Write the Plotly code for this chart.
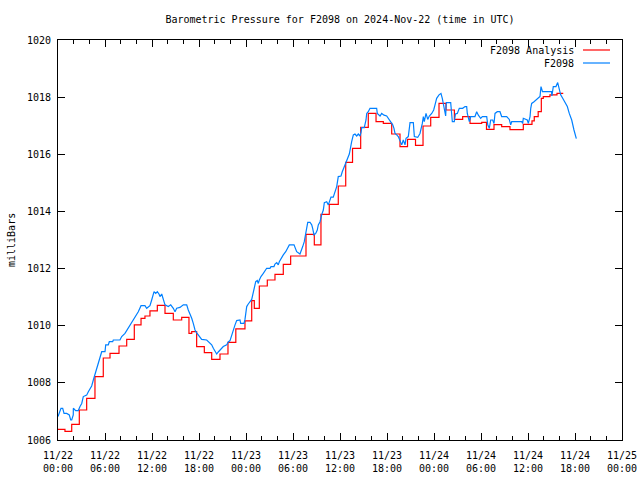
import plotly.graph_objects as go

# ---------------- data ----------------
# hours after 2024-11-22 00:00 UTC
analysis_hours = [0, 0.89, 1.75, 2.72, 3.66, 4.72, 5.78, 6.64, 7.79, 8.77, 9.74, 10.6, 11.1, 11.74,
                  12.68, 13.66, 14.72, 15.79, 16.72, 17.07, 17.7, 18.68, 19.62, 20.68, 21.7, 22.7,
                  23.87, 24.73, 25.06, 25.7, 26.72, 27.7, 28.76, 29.7, 31.66, 32.72, 33.57, 34.63,
                  35.78, 36.73, 37.6, 38.64, 39.61, 40.6, 41.53, 42.6, 43.66, 44.62, 45.64, 46.6,
                  47.58, 48.64, 49.53, 50.6, 51.66, 52.6, 54.09, 54.7, 55.66, 56.64, 57.7, 59.4,
                  60.51, 60.8, 61.3, 61.7, 61.95, 62.8, 63.7, 64.5]
analysis_mb = [1006.37, 1006.30, 1006.55, 1007.05, 1007.46, 1008.22, 1008.87, 1009.03, 1009.29, 1009.52,
               1010.03, 1010.26, 1010.34, 1010.52, 1010.71, 1010.43, 1010.20, 1010.29, 1009.73, 1009.79,
               1009.27, 1009.06, 1008.82, 1009.01, 1009.42, 1009.89, 1010.17, 1010.88, 1010.61, 1011.39,
               1011.60, 1011.80, 1012.15, 1012.44, 1013.20, 1012.83, 1013.90, 1014.25, 1014.89, 1015.72,
               1016.21, 1016.94, 1017.43, 1017.14, 1017.08, 1016.71, 1016.27, 1016.52, 1016.31, 1016.99,
               1017.29, 1017.78, 1017.55, 1017.22, 1017.32, 1017.08, 1017.12, 1016.87, 1017.04, 1016.97,
               1016.86, 1017.05, 1017.17, 1017.32, 1017.49, 1017.96, 1018.02, 1018.08, 1018.13, 1018.13]

station_hours = [0, 0.38, 0.6, 0.77, 1.11, 1.44, 1.62, 1.75, 1.95, 1.96, 2.26, 2.59, 2.81, 3.03, 3.23,
                 3.66, 3.87, 4.09, 4.3, 4.51, 4.72, 4.94, 5.14, 5.36, 5.58, 6.0, 6.09, 6.42, 6.55, 6.98,
                 7.06, 7.91, 8.13, 8.55, 8.97, 9.41, 9.83, 10.25, 10.6, 11.1, 11.32, 11.74, 11.96, 12.26,
                 12.47, 12.68, 12.89, 13.02, 13.24, 13.44, 13.66, 14.08, 14.39, 14.72, 14.94, 15.15,
                 15.57, 16.0, 16.43, 16.63, 16.85, 17.07, 17.27, 17.49, 17.71, 17.91, 18.13, 18.34,
                 18.98, 19.19, 19.4, 19.62, 19.83, 20.04, 20.26, 20.46, 20.68, 21.1, 21.54, 21.74,
                 21.96, 22.17, 22.38, 22.6, 22.81, 23.23, 23.32, 23.74, 23.87, 24.0, 24.09, 24.29,
                 24.51, 24.73, 24.86, 25.02, 25.24, 25.44, 25.57, 25.7, 25.91, 26.21, 26.43, 26.64,
                 27.06, 27.19, 27.57, 27.7, 27.92, 28.12, 28.25, 28.47, 28.76, 29.07, 29.32, 29.53,
                 30.13, 30.26, 30.47, 30.89, 31.02, 31.24, 31.44, 31.62, 31.75, 31.88, 32.17, 32.39,
                 32.51, 32.68, 32.9, 33.1, 33.23, 33.45, 33.66, 33.87, 34.0, 34.3, 34.51, 34.63, 34.85,
                 35.14, 35.36, 35.58, 35.78, 36.13, 36.29, 36.55, 36.73, 36.98, 37.19, 37.49, 37.7,
                 37.91, 38.13, 38.34, 38.55, 38.68, 38.77, 39.1, 39.32, 39.41, 39.61, 39.83, 40.68,
                 40.76, 41.11, 41.32, 41.62, 41.96, 42.26, 42.51, 42.73, 42.89, 43.02, 43.24, 43.44,
                 43.88, 44.08, 44.3, 44.43, 44.72, 44.94, 45.36, 45.49, 45.92, 46.21, 46.51, 46.64,
                 46.76, 46.98, 47.2, 47.4, 47.71, 47.96, 48.13, 48.34, 48.64, 48.89, 49.06, 49.28,
                 49.49, 49.57, 50.13, 50.34, 50.59, 50.74, 50.97, 51.23, 51.66, 51.96, 52.17, 52.25,
                 52.51, 52.68, 53.23, 53.45, 53.66, 53.96, 54.17, 54.73, 54.86, 55.06, 55.24, 55.49,
                 55.66, 55.79, 56.08, 56.42, 56.64, 57.28, 57.61, 57.79, 57.92, 59.2, 59.32, 59.4,
                 59.91, 60.04, 60.26, 60.35, 60.47, 60.77, 61.02, 61.19, 61.53, 61.66, 61.85, 63.0,
                 63.05, 63.23, 63.57, 63.79, 63.96, 64.17, 64.43, 64.72, 65.02, 65.27, 65.58, 65.87,
                 66.17]
station_mb = [1006.82, 1007.11, 1007.11, 1006.93, 1006.93, 1006.88, 1006.70, 1006.70, 1006.88, 1007.11,
              1007.03, 1007.03, 1007.17, 1007.28, 1007.52, 1007.57, 1007.69, 1007.81, 1007.89, 1008.10,
              1008.31, 1008.54, 1008.74, 1008.90, 1009.09, 1009.09, 1009.33, 1009.33, 1009.44, 1009.44,
              1009.50, 1009.50, 1009.62, 1009.73, 1009.91, 1010.14, 1010.28, 1010.49, 1010.70, 1010.70,
              1010.61, 1010.70, 1010.90, 1011.19, 1011.13, 1011.19, 1011.11, 1011.02, 1011.11, 1010.96,
              1010.73, 1010.67, 1010.73, 1010.61, 1010.49, 1010.61, 1010.64, 1010.73, 1010.73, 1010.55,
              1010.43, 1010.26, 1010.08, 1009.85, 1009.75, 1009.68, 1009.61, 1009.52, 1009.50, 1009.44,
              1009.38, 1009.33, 1009.21, 1009.12, 1009.01, 1009.08, 1009.15, 1009.27, 1009.33, 1009.43,
              1009.48, 1009.68, 1009.85, 1010.03, 1010.18, 1010.20, 1010.08, 1010.08, 1010.22, 1010.49,
              1010.67, 1010.76, 1010.84, 1010.92, 1011.08, 1011.31, 1011.54, 1011.58, 1011.48, 1011.60,
              1011.72, 1011.83, 1011.95, 1012.01, 1012.01, 1012.07, 1012.07, 1012.16, 1012.21, 1012.13,
              1012.24, 1012.36, 1012.48, 1012.59, 1012.74, 1012.83, 1012.83, 1012.74, 1012.59, 1012.51,
              1012.59, 1012.77, 1012.94, 1013.18, 1013.41, 1013.62, 1013.62, 1013.53, 1013.41, 1013.18,
              1013.23, 1013.35, 1013.53, 1013.64, 1013.88, 1014.05, 1014.31, 1014.34, 1014.23, 1014.34,
              1014.50, 1014.50, 1014.69, 1014.87, 1015.22, 1015.24, 1015.39, 1015.57, 1015.72, 1015.88,
              1016.01, 1016.44, 1016.68, 1016.71, 1016.64, 1016.71, 1016.64, 1016.76, 1016.93, 1016.93,
              1017.20, 1017.43, 1017.49, 1017.61, 1017.61, 1017.43, 1017.34, 1017.43, 1017.37, 1017.34,
              1017.22, 1017.14, 1017.03, 1016.91, 1016.73, 1016.68, 1016.62, 1016.33, 1016.50, 1016.33,
              1016.56, 1016.62, 1017.11, 1017.11, 1016.62, 1016.59, 1016.73, 1017.08, 1017.32, 1017.14,
              1017.43, 1017.22, 1017.34, 1017.43, 1017.55, 1017.73, 1017.96, 1018.08, 1018.13, 1017.96,
              1017.61, 1017.34, 1017.81, 1017.81, 1017.14, 1017.14, 1017.41, 1017.43, 1017.61, 1017.61,
              1017.67, 1017.67, 1017.43, 1017.14, 1017.32, 1017.32, 1017.49, 1017.37, 1017.26, 1017.32,
              1017.32, 1017.03, 1016.91, 1017.20, 1017.20, 1017.08, 1017.43, 1017.49, 1017.49, 1017.32,
              1017.32, 1017.22, 1017.03, 1017.14, 1017.14, 1017.08, 1017.26, 1017.20, 1017.08, 1017.32,
              1017.61, 1017.78, 1017.84, 1017.90, 1017.96, 1018.02, 1018.37, 1018.19, 1018.19, 1018.04,
              1018.37, 1018.37, 1018.51, 1018.31, 1018.08, 1017.96, 1017.84, 1017.67, 1017.43, 1017.20,
              1016.85, 1016.55]

tick_hours = list(range(0, 73, 6))
tick_labels = ["11/22<br>00:00", "11/22<br>06:00", "11/22<br>12:00", "11/22<br>18:00",
               "11/23<br>00:00", "11/23<br>06:00", "11/23<br>12:00", "11/23<br>18:00",
               "11/24<br>00:00", "11/24<br>06:00", "11/24<br>12:00", "11/24<br>18:00",
               "11/25<br>00:00"]
series_names = ["F2098 Analysis", "F2098"]
series_colors = ["#ff0000", "#0080ff"]

FONT = "DejaVu Sans Mono"

fig = go.Figure()
fig.add_trace(go.Scatter(x=analysis_hours, y=analysis_mb, mode="lines", line_shape="hv",
                         line=dict(color=series_colors[0], width=1.2), name=series_names[0]))
fig.add_trace(go.Scatter(x=station_hours, y=station_mb, mode="lines",
                         line=dict(color=series_colors[1], width=1.2), name=series_names[1]))

W, H = 640, 480
ML, MR, MT, MB = 58, 18, 40, 40
pw, ph = W - ML - MR, H - MT - MB

axis_common = dict(showline=True, linecolor="black", linewidth=1, mirror="allticks",
                   ticks="inside", tickcolor="black", showgrid=False, zeroline=False,
                   tickfont=dict(family=FONT, size=10, color="black"))

fig.update_layout(
    width=W, height=H,
    margin=dict(l=ML, r=MR, t=MT, b=MB, autoexpand=False),
    paper_bgcolor="white", plot_bgcolor="white",
    showlegend=False,
    title=dict(text="Barometric Pressure for F2098 on 2024-Nov-22 (time in UTC)",
               x=(ML + pw / 2) / W, xanchor="center", y=1 - 19 / H, yanchor="middle",
               font=dict(family=FONT, size=10, color="black")),
    xaxis=dict(range=[0, 72], tickmode="array", tickvals=tick_hours, ticktext=tick_labels,
               ticklen=7, ticklabelstandoff=6,
               minor=dict(dtick=2, tick0=0, ticks="inside", ticklen=4, tickcolor="black"),
               **axis_common),
    yaxis=dict(range=[1006, 1020], tickmode="linear", tick0=1006, dtick=2, ticklen=7,
               ticklabelstandoff=4, **axis_common),
)

# y-axis title
fig.add_annotation(text="milliBars", textangle=-90, xref="paper", yref="paper",
                   x=(11 - ML) / pw, y=0.5, xanchor="center", yanchor="middle", showarrow=False,
                   font=dict(family=FONT, size=10, color="black"))

# gnuplot-style key: text right-aligned, line sample to the right
key_rows_y = [50, 63]
for name, col, ypx in zip(series_names, series_colors, key_rows_y):
    yp = 1 - (ypx - MT) / ph
    fig.add_annotation(text=name, xref="paper", yref="paper", x=(576 - ML) / pw, y=yp,
                       xanchor="right", yanchor="middle", showarrow=False,
                       font=dict(family=FONT, size=10, color="black"))
    fig.add_shape(type="line", xref="paper", yref="paper", x0=(583 - ML) / pw, x1=(610 - ML) / pw,
                  y0=yp, y1=yp, line=dict(color=col, width=1.2))

# remove the browser's default page margin so the figure fills the 640x480 window
fig.write_html("out.html",
               config={"displayModeBar": False},
               post_script="document.body.style.margin='0';document.body.style.overflow='hidden';")
